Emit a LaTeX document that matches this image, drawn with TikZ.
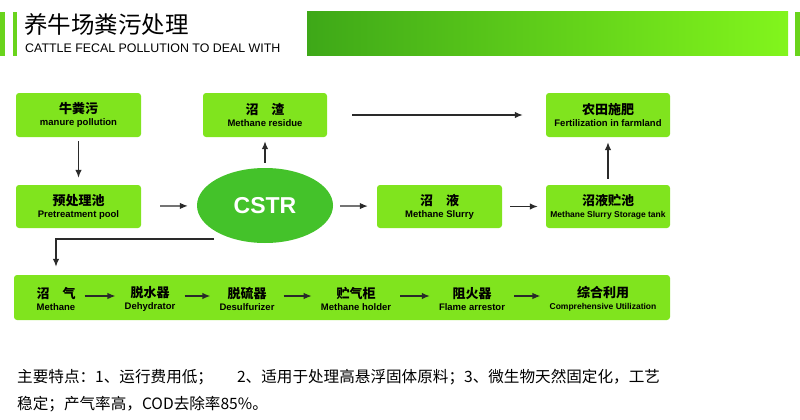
\documentclass[tikz,border=0pt]{standalone}
\usepackage{fontspec}
\setmainfont{Liberation Sans}
\newfontfamily\cjk{Noto Sans CJK SC}
\usetikzlibrary{positioning,arrows.meta,shapes.geometric}
\definecolor{boxgreen}{HTML}{80E41E}
\definecolor{tankgreen}{HTML}{44C22A}
\definecolor{bargreen}{HTML}{6AD41C}
\definecolor{darkbar}{HTML}{3EA818}
\definecolor{lightbar}{HTML}{82F51C}
\definecolor{arrowgray}{HTML}{2A2A2A}
\newcommand\cnfont{\cjk\bfseries\fontsize{13}{15}\selectfont}
\newcommand\enfont{\bfseries\fontsize{9.5}{12}\selectfont}
\tikzset{
  stepbox/.style={fill=boxgreen, rounded corners=3pt, minimum width=125pt,
    minimum height=44pt, align=center, inner sep=2pt},
  flowarrow/.style={-{Latex[length=8pt,width=6.5pt]}, line width=1.3pt, draw=arrowgray},
  bandtext/.style={align=center, inner sep=1pt},
  headbar/.style={fill=bargreen},
}

\begin{document}
\begin{tikzpicture}[x=1pt, y=-1pt]
  \useasboundingbox (0,0) rectangle (800,420);
  % header
  \fill[headbar] (0,12) rectangle (5,56);
  \fill[headbar] (13,12) rectangle (17,56);
  \fill[headbar] (795,12) rectangle (800,56);
  \shade[left color=darkbar, right color=lightbar] (307,12) rectangle (788,56);
  \node[anchor=west, inner sep=0pt, font=\cjk\fontsize{23.5}{26}\selectfont] (title) at (24,25) {养牛场粪污处理};
  \node[anchor=west, inner sep=0pt, font=\fontsize{12.4}{14}\selectfont] (subtitle) at (25,48)
    {CATTLE FECAL POLLUTION TO DEAL WITH};

  % boxes
  \node[stepbox] (manure) at (78.5,115) {{\cnfont 牛粪污}\\{\enfont manure pollution}};
  \node[stepbox, minimum width=124pt] (residue) at (265,115) {{\cnfont 沼\quad 渣}\\{\enfont Methane residue}};
  \node[stepbox, minimum width=124pt] (farm) at (608,115) {{\cnfont 农田施肥}\\{\enfont Fertilization in farmland}};
  \node[stepbox, minimum height=43pt] (pretreat) at (78.5,206.5) {{\cnfont 预处理池}\\{\enfont Pretreatment pool}};
  \node[ellipse, fill=tankgreen, minimum width=136pt, minimum height=75pt, inner sep=0pt,
    text=white, font=\bfseries\fontsize{23}{26}\selectfont] (cstr) at (265,205.5) {CSTR};
  \node[stepbox, minimum height=43pt] (slurry) at (439.5,206.5) {{\cnfont 沼\quad 液}\\{\enfont Methane Slurry}};
  \node[stepbox, minimum width=124pt, minimum height=43pt] (storage) at (608,206.5)
    {{\cnfont 沼液贮池}\\{\enfont\fontsize{8.5}{11}\selectfont Methane Slurry Storage tank}};

  % biogas line
  \node[fill=boxgreen, rounded corners=3pt, minimum width=656pt, minimum height=45pt] (band) at (342,297.5) {};
  \node[bandtext] (gas) at (56,299) {{\cnfont 沼\quad 气}\\{\enfont Methane}};
  \node[bandtext] (dehyd) at (150,299) {{\cnfont 脱水器}\\{\enfont Dehydrator}};
  \node[bandtext] (desulf) at (247,299) {{\cnfont 脱硫器}\\{\enfont Desulfurizer}};
  \node[bandtext] (holder) at (356,299) {{\cnfont 贮气柜}\\{\enfont Methane holder}};
  \node[bandtext] (flame) at (472,299) {{\cnfont 阻火器}\\{\enfont Flame arrestor}};
  \node[bandtext] (util) at (603,299) {{\cnfont 综合利用}\\{\enfont\fontsize{8.5}{11}\selectfont Comprehensive Utilization}};

  % arrows
  \draw[flowarrow, shorten <=4pt, shorten >=7pt] (manure) -- (pretreat);
  \draw[flowarrow, shorten <=19pt, shorten >=9pt] (pretreat) -- (cstr);
  \draw[flowarrow, shorten <=7pt, shorten >=9pt] (cstr) -- (slurry);
  \draw[flowarrow, shorten <=5pt, shorten >=4pt] (cstr) -- (residue);
  \draw[flowarrow, shorten <=25pt, shorten >=23pt] (residue) -- (farm);
  \draw[flowarrow, shorten <=8pt, shorten >=8pt] (slurry) -- (storage);
  \draw[flowarrow, shorten <=6pt, shorten >=5pt] (storage) -- (farm);
  \coordinate (gasstart) at (214,239);
  \draw[flowarrow, shorten >=8pt] (gasstart) -| (band.north -| gas);
  \foreach \a/\b in {gas/dehyd, dehyd/desulf, desulf/holder, holder/flame, flame/util}
    \draw[flowarrow, shorten <=8pt, shorten >=8pt] ([yshift=3pt]\a.east) -- ([yshift=3pt]\b.west);

  % notes
  \node[anchor=west, inner sep=0pt, font=\cjk\fontsize{15.6}{18}\selectfont] (note1) at (17,377)
    {主要特点：1、运行费用低；\hspace{24pt}2、适用于处理高悬浮固体原料；3、微生物天然固定化，工艺};
  \node[anchor=west, inner sep=0pt, font=\cjk\fontsize{15.6}{18}\selectfont] (note2) at (17,404)
    {稳定；产气率高，COD去除率85\%。};
\end{tikzpicture}
\end{document}
